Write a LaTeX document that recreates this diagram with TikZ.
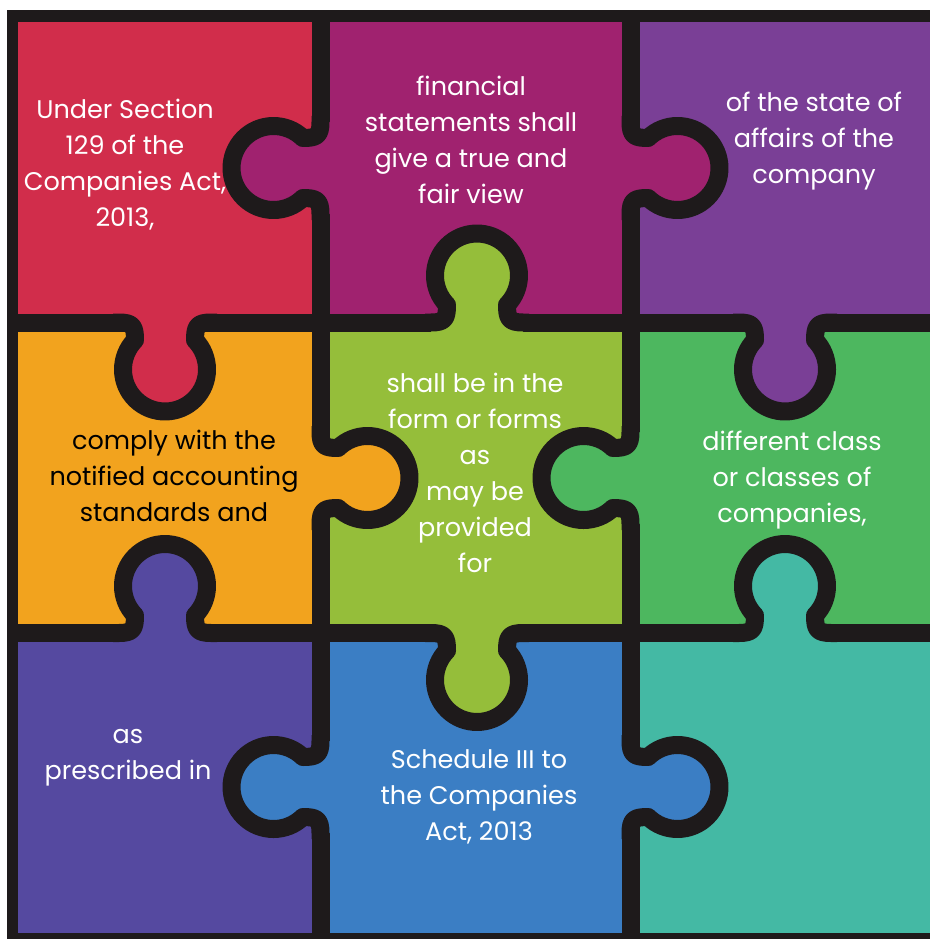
\documentclass[tikz,border=0pt]{standalone}
\usepackage{fontspec}
\setmainfont{Poppins}
\usepackage{tikz}
\definecolor{ink}{HTML}{1E1A1B}
\definecolor{pzred}{HTML}{D12D4B}
\definecolor{pzmagenta}{HTML}{A0226F}
\definecolor{pzviolet}{HTML}{7A3F96}
\definecolor{pzorange}{HTML}{F2A31E}
\definecolor{pzlime}{HTML}{95BE3A}
\definecolor{pzgreen}{HTML}{4DB75F}
\definecolor{pzindigo}{HTML}{5549A0}
\definecolor{pzblue}{HTML}{3B7EC4}
\definecolor{pzteal}{HTML}{44B9A4}
\tikzset{
  edge/.style ={draw=ink, line width=18pt, line join=round},
  words/.style={align=center, text=white, inner sep=0pt,
                font=\fontsize{25.5}{36}\selectfont},
}

\begin{document}
\begin{tikzpicture}[x=1pt, y=1pt, yscale=-1]

\useasboundingbox (0,0) rectangle (930,939);
\fill[white] (0,0) rectangle (930,939);
\fill[ink] (7,10) rectangle (930,939);

% ---------------------------------------------------------------- pieces
\foreach \pc/\xa/\ya/\xb/\yb in {
    pzred/18/22/311.5/313.5, pzmagenta/329.5/22/621.5/313.5, pzviolet/639.5/22/930/313.5,
    pzorange/18/331.5/311.5/624, pzlime/329.5/331.5/621.5/624, pzgreen/639.5/331.5/930/624,
    pzindigo/18/642/311.5/933, pzblue/329.5/642/621.5/933, pzteal/639.5/642/930/933}
  \fill[\pc] (\xa,\ya) rectangle (\xb,\yb);

% ---------------------------------------------------------------- knobs
% rotate 0 = down, 180 = up, 90 = left, -90 = right
\foreach \kx/\ky/\kr/\kc in {
    165/322.5/0/pzred, 477/322.5/180/pzlime, 785/322.5/0/pzviolet,
    165/633/180/pzindigo, 477/633/0/pzlime, 785/633/180/pzteal,
    320.5/168/90/pzmagenta, 320.5/478/-90/pzorange, 320.5/787/90/pzblue,
    630.5/168/-90/pzmagenta, 630.5/478/90/pzgreen, 630.5/787/-90/pzblue}
{
  \begin{scope}[shift={(\kx,\ky)}, rotate=\kr]
    \fill[\kc] (-46,-10) -- (-46,0) .. controls (-32,0) and (-30,4) .. (-30,17.6)
      arc[start angle=224.4, end angle=-44.4, radius=42]
      .. controls (30,4) and (32,0) .. (46,0) -- (46,-10) -- cycle;
    \draw[edge] (-52,0) -- (-46,0) .. controls (-32,0) and (-30,4) .. (-30,17.6)
      arc[start angle=224.4, end angle=-44.4, radius=42]
      .. controls (30,4) and (32,0) .. (46,0) -- (52,0);
  \end{scope}
}

% ---------------------------------------------------------------- texts
\node[words] (redtxt) at (125,165)
  {Under Section\\129 of the\\Companies Act,\\2013,};
\node[words] (magtxt) at (471,140)
  {financial\\statements shall\\give a true and\\fair view};
\node[words] (viotxt) at (814,141.5)
  {of the state of\\affairs of the\\company};
\node[words, text=black] (oratxt) at (174,476)
  {comply with the\\notified accounting\\standards and};
\node[words] (limtxt) at (475,473)
  {shall be in the\\form or forms\\as\\may be\\provided\\for};
\node[words] (grntxt) at (792,480)
  {different class\\or classes of\\companies,};
\node[words] (indtxt) at (128,758)
  {as\\prescribed in};
\node[words] (blutxt) at (479,797)
  {Schedule III to\\the Companies\\Act, 2013};

\end{tikzpicture}
\end{document}
